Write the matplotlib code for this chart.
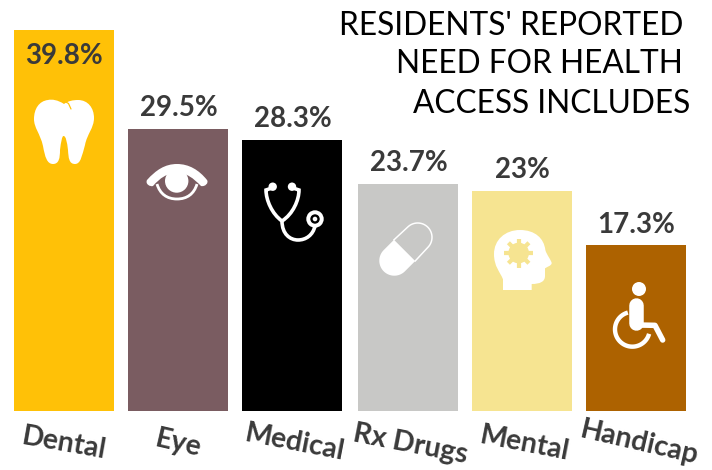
import numpy as np
import matplotlib
matplotlib.use("Agg")
import matplotlib.pyplot as plt
from matplotlib.path import Path
from matplotlib.patches import PathPatch, Circle, Polygon

categories = ["Dental", "Eye", "Medical", "Rx Drugs", "Mental", "Handicap"]
values = [39.8, 29.5, 28.3, 23.7, 23.0, 17.3]
value_labels = ["39.8%", "29.5%", "28.3%", "23.7%", "23%", "17.3%"]
colors = ["#FFC107", "#7A5C61", "#000000", "#C8C8C6", "#F6E491", "#AD6200"]
bar_left = [14, 128, 242, 358, 472, 586]
title_lines = ["RESIDENTS' REPORTED", "NEED FOR HEALTH", "ACCESS INCLUDES"]

W, H = 712, 470
BASE, TOP = 411, 30
TXT = "#3A3A3A"
plt.rcParams["font.family"] = ["Lato", "DejaVu Sans"]

fig = plt.figure(figsize=(W / 100, H / 100), dpi=100, facecolor="white")

# bars on a value axis
ax = fig.add_axes([0, (H - BASE) / H, 1, (BASE - TOP) / H])
ax.set_xlim(0, W)
ax.set_ylim(0, max(values))
ax.axis("off")
ax.bar(bar_left, values, width=100, align="edge", color=colors, linewidth=0)

# overlay in pixels for text and icons
ov = fig.add_axes([0, 0, 1, 1])
ov.set_xlim(0, W)
ov.set_ylim(H, 0)
ov.axis("off")
ov.patch.set_alpha(0)

# value labels
for i, (x, v, lab) in enumerate(zip(bar_left, values, value_labels)):
    off = -18.5 if i == 0 else 15
    ax.annotate(lab, (x + 50.5, v), xytext=(0, off), textcoords="offset points",
                ha="center", va="center", fontsize=20, fontweight="bold", color=TXT)

# category labels
cat_xy = [(64, 444), (178, 444), (294.5, 443), (410, 444), (524.5, 444), (639, 443)]
cat_rot = [-10, -13, -11, -11, -11, -13]
for name, (x, y), r in zip(categories, cat_xy, cat_rot):
    ov.text(x, y, name, rotation=r, rotation_mode="anchor", ha="center", va="center",
            fontsize=20.5, fontweight="bold", color=TXT)

# title
for line, x, y in zip(title_lines, [683, 683, 690], [26, 64, 104]):
    ov.text(x, y, line, ha="right", va="center", fontsize=22.8, color="black")


def bez(pts, fc="white", ec="none", lw=0):
    verts, codes = [], []
    for c, p in pts:
        if c == "M":
            verts.append(p); codes.append(Path.MOVETO)
        elif c == "L":
            verts.append(p); codes.append(Path.LINETO)
        elif c == "C":
            verts.extend(p); codes.extend([Path.CURVE4] * 3)
    ov.add_patch(PathPatch(Path(verts, codes), facecolor=fc, edgecolor=ec, linewidth=lw))


PX = 0.72  # points per pixel

# tooth
bez([("M", (64, 104)),
     ("C", [(58, 100), (52, 99), (48, 100)]),
     ("C", [(39, 101), (34, 109), (34, 119)]),
     ("C", [(34, 128), (40, 133), (43, 146)]),
     ("C", [(45, 157), (47, 164), (53, 164)]),
     ("C", [(59, 164), (60, 158), (60, 150)]),
     ("C", [(61, 142), (62, 136), (63.5, 136)]),
     ("C", [(66, 136), (67, 142), (68, 150)]),
     ("C", [(68.5, 158), (69, 164), (75, 164)]),
     ("C", [(81, 164), (82, 155), (85, 145)]),
     ("C", [(87, 134), (94, 128), (94, 118)]),
     ("C", [(94, 108), (88, 100), (78, 100)]),
     ("C", [(73, 100), (68, 101), (64, 104)])])
ov.plot([65, 68.5, 71], [101.5, 103.5, 109], color=colors[0], lw=1.2 * PX, solid_capstyle="round")

# eye
ov.add_patch(Circle((176.7, 181), 11.7, fc="white", ec="none"))
bez([("M", (147, 180)),
     ("C", [(156, 170), (165, 164), (177, 164)]),
     ("C", [(189, 164), (199, 170), (207, 180)]),
     ("C", [(209, 183), (205, 187), (201, 186)]),
     ("C", [(193, 178), (187, 173), (177, 173)]),
     ("C", [(167, 173), (160, 178), (153, 186)]),
     ("C", [(150, 187), (145, 184), (147, 180)])])
bez([("M", (157, 184)), ("C", [(160, 194), (167, 199), (177, 199)]),
     ("C", [(187, 199), (194, 194), (197, 184)])], fc="none", ec="white", lw=2.8 * PX)

# stethoscope
sw = 3.6 * PX
for c in [(272.7, 186.7), (292, 186.7)]:
    ov.add_patch(Circle(c, 4.2, fc="white", ec="none"))
bez([("M", (272, 188)), ("L", (266, 190)),
     ("C", [(266, 200), (272, 214), (282, 221)])], fc="none", ec="white", lw=sw)
bez([("M", (293, 188)), ("L", (299, 190)),
     ("C", [(299, 200), (293, 214), (282, 221)])], fc="none", ec="white", lw=sw)
bez([("M", (282, 221)),
     ("C", [(282, 234), (290, 240), (298, 240)]),
     ("C", [(306, 240), (313, 235), (315, 226)])], fc="none", ec="white", lw=sw)
ov.add_patch(Circle((315, 219), 8.7, fc="white", ec="none"))
ov.add_patch(Circle((315, 219), 4.7, fc="black", ec="none"))
ov.add_patch(Circle((315, 219), 2.3, fc="white", ec="none"))

# pill
c1 = np.array([394.3, 260.7])
c2 = np.array([417.7, 237.3])
r = 15.0
a1 = np.radians(np.linspace(45, 225, 40))
a2 = np.radians(np.linspace(-135, 45, 40))
u = np.array([1, -1]) / np.sqrt(2)
mid = (c1 + c2) / 2 + u * -2
n = np.array([1, 1]) / np.sqrt(2)
low = [c1 + r * np.array([np.cos(t), np.sin(t)]) for t in a1]
ov.add_patch(Polygon([mid + n * r] + low + [mid - n * r], closed=True, fc="white", ec="none"))
up = [c2 + (r - 0.7) * np.array([np.cos(t), np.sin(t)]) for t in a2]
pts = np.array([mid - n * r] + up + [mid + n * r])
ov.plot(pts[:, 0], pts[:, 1], color="white", lw=1.5 * PX)

# head with gear
z = lambda x, y: (350 + x / 3, 170 + y / 3)
bez([("M", z(459, 360)), ("L", z(459, 328)),
     ("C", [z(450, 305), z(432, 290), z(432, 252)]),
     ("C", [z(432, 210), z(465, 180), z(510, 180)]),
     ("C", [z(555, 180), z(582, 205), z(586, 240)]),
     ("C", [z(590, 255), z(605, 272), z(605, 280)]),
     ("C", [z(603, 288), z(592, 290), z(585, 295)]),
     ("L", z(585, 318)),
     ("C", [z(585, 335), z(570, 342), z(545, 342)]),
     ("L", z(545, 360)), ("L", z(459, 360))])
gc = np.array(z(506, 249))
for k in range(4):
    t = k * np.pi / 4
    d = np.array([np.cos(t), np.sin(t)]) * 14.5
    ov.plot([gc[0] - d[0], gc[0] + d[0]], [gc[1] - d[1], gc[1] + d[1]],
            color=colors[4], lw=4.2 * PX, solid_capstyle="butt")
ov.add_patch(Circle(gc, 10.3, fc=colors[4], ec="none"))
ov.add_patch(Circle(gc, 4.8, fc="white", ec="none"))

# wheelchair
ov.add_patch(Circle(z(867, 357), 7, fc="white", ec="none"))
ov.plot(*zip(z(858, 405), z(858, 458)), color="white", lw=14.5 * PX, solid_capstyle="round")
ov.plot(*zip(z(862, 465), z(915, 466), z(938, 510)), color="white", lw=5.5 * PX,
        solid_capstyle="round", solid_joinstyle="round")
ac = np.array(z(847, 478))
th = np.radians(np.linspace(15, 255, 60))
wr = 52 / 3
ov.plot(ac[0] + wr * np.cos(th), ac[1] + wr * np.sin(th), color="white", lw=4.4 * PX,
        solid_capstyle="butt")

fig.savefig("out.png", dpi=100, facecolor="white")
